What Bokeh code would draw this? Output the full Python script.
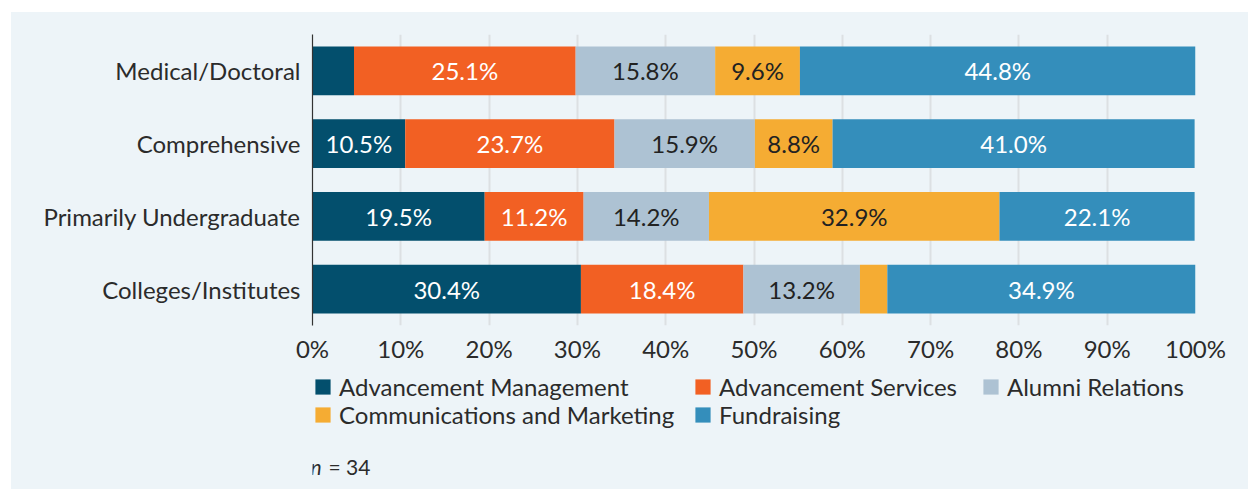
from bokeh.plotting import figure
from bokeh.layouts import column
from bokeh.models import (ColumnDataSource, FactorRange, Range1d, FixedTicker,
                          Legend, LegendItem, Label)
from bokeh.core.properties import value
from bokeh.embed import file_html
from bokeh.resources import INLINE

categories = ["Medical/Doctoral", "Comprehensive", "Primarily Undergraduate", "Colleges/Institutes"]
series = ["Advancement Management", "Advancement Services", "Alumni Relations",
          "Communications and Marketing", "Fundraising"]
adv_management = [4.7, 10.5, 19.5, 30.4]
adv_services = [25.1, 23.7, 11.2, 18.4]
alumni_relations = [15.8, 15.9, 14.2, 13.2]
comms_marketing = [9.6, 8.8, 32.9, 3.1]
fundraising = [44.8, 41.0, 22.1, 34.9]
tick_values = [0, 10, 20, 30, 40, 50, 60, 70, 80, 90, 100]
tick_labels = ["0%", "10%", "20%", "30%", "40%", "50%", "60%", "70%", "80%", "90%", "100%"]
sample_note = "34"

colors = ["#034F6D", "#F26023", "#ADC2D3", "#F5AC33", "#348EBB"]
label_colors = ["#FFFFFF", "#FFFFFF", "#222222", "#222222", "#FFFFFF"]
BG = "#EDF4F8"
FONT = "Lato"
FS = "24px"
TXT = "#2B2B2B"

values = [adv_management, adv_services, alumni_relations, comms_marketing, fundraising]
keys = ["am", "as", "ar", "cm", "fr"]
data = {"cat": categories}
for k, v in zip(keys, values):
    data[k] = v
src = ColumnDataSource(data)

# ---------------- main chart ----------------
p = figure(width=1237, height=353, output_backend="svg", toolbar_location=None,
           y_range=FactorRange(*reversed(categories)), x_range=Range1d(0, 100),
           min_border_left=301, min_border_right=53, min_border_top=22, min_border_bottom=39)
p.background_fill_color = BG
p.border_fill_color = BG
p.outline_line_color = None

p.hbar_stack(keys, y="cat", height=0.67, color=colors, source=src, line_width=0)

lx, ly, lt, lc = [], [], [], []
for ci, cat in enumerate(categories):
    cum = 0.0
    for si, v in enumerate(values):
        val = v[ci]
        if val >= 5:
            lx.append(cum + val / 2)
            ly.append(cat)
            lt.append(f"{val:.1f}%")
            lc.append(label_colors[si])
        cum += val
lsrc = ColumnDataSource(dict(x=lx, y=ly, t=lt, c=lc))
p.text(x="x", y="y", text="t", text_color="c", source=lsrc, text_align="center",
       text_baseline="middle", text_font=value(FONT), text_font_size=FS)

p.xaxis.ticker = FixedTicker(ticks=tick_values)
p.xaxis.major_label_overrides = {t: l for t, l in zip(tick_values, tick_labels)}
p.xaxis.axis_line_color = None
p.xaxis.major_tick_line_color = None
p.xaxis.minor_tick_line_color = None
p.xaxis.major_tick_out = 0
p.xaxis.major_tick_in = 0
p.xaxis.major_label_standoff = 8
p.xaxis.major_label_text_font = FONT
p.xaxis.major_label_text_font_size = FS
p.xaxis.major_label_text_color = TXT

p.yaxis.axis_line_color = "#333333"
p.yaxis.axis_line_width = 1.2
p.yaxis.major_tick_line_color = None
p.yaxis.minor_tick_line_color = None
p.yaxis.major_tick_out = 0
p.yaxis.major_tick_in = 0
p.yaxis.major_label_standoff = 12
p.yaxis.major_label_text_font = FONT
p.yaxis.major_label_text_font_size = FS
p.yaxis.major_label_text_color = TXT

p.ygrid.grid_line_color = None
p.xgrid.grid_line_color = "#DCE0E3"
p.xgrid.grid_line_width = 2
p.xgrid.ticker = FixedTicker(ticks=tick_values[1:])

# ---------------- legend + note strip ----------------
q = figure(width=1237, height=124, output_backend="svg", toolbar_location=None,
           y_range=FactorRange(*reversed(categories)), x_range=Range1d(0, 100),
           x_axis_location=None, y_axis_location=None,
           min_border_left=301, min_border_right=53, min_border_top=0, min_border_bottom=0)
q.background_fill_color = BG
q.border_fill_color = BG
q.outline_line_color = None
q.grid.visible = False
leg_renderers = q.hbar_stack(keys, y="cat", height=0.67, color=colors, source=src, line_width=0)
for r in leg_renderers:
    r.visible = False

# legend grid: (swatch x from frame left, bottom offset) for each series
positions = [(1, 88), (381, 88), (669, 88), (1, 60), (381, 60)]
for s, r, loc in zip(series, leg_renderers, positions):
    lg = Legend(items=[LegendItem(label=s, renderers=[r])], location=loc,
                padding=0, margin=0, spacing=0, glyph_width=19, glyph_height=19,
                label_standoff=7, label_text_font=FONT, label_text_font_size=FS,
                label_text_color=TXT, background_fill_alpha=0, border_line_color=None,
                inactive_fill_alpha=0)
    q.add_layout(lg, "center")

n_lab = Label(x=-2, y=23, x_units="screen", y_units="screen", text="n",
              text_font=FONT, text_font_style="italic", text_font_size="21px",
              text_baseline="middle", text_color=TXT)
n_val = Label(x=16, y=23, x_units="screen", y_units="screen", text="= " + sample_note,
              text_font=FONT, text_font_size="21px",
              text_baseline="middle", text_color=TXT)
q.add_layout(n_lab)
q.add_layout(n_val)

layout = column(p, q, spacing=0)
layout.margin = (12, 0, 0, 11)
layout.styles = {"background-color": BG}
open("out.html", "w").write(file_html(layout, INLINE))
